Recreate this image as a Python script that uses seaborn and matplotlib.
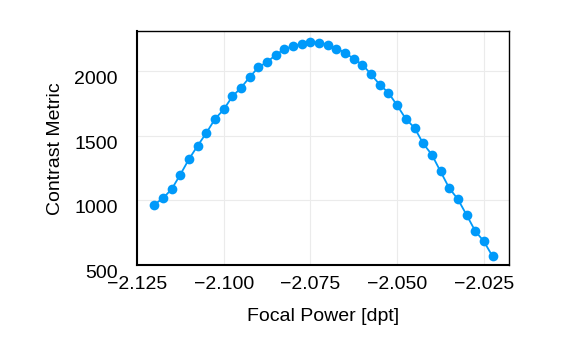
import numpy as np
import pandas as pd
import matplotlib
matplotlib.use("Agg")
import matplotlib.pyplot as plt
import matplotlib.transforms as mtransforms
from matplotlib.ticker import MultipleLocator
import seaborn as sns

# Focus sweep: focal power steps and measured contrast
focal_start = -2.1200
focal_step = 0.0025
contrast = [
    967, 1017, 1087, 1200, 1320, 1423, 1522, 1630, 1703, 1804,
    1871, 1954, 2029, 2070, 2124, 2171, 2192, 2210, 2223, 2220,
    2205, 2174, 2143, 2093, 2050, 1974, 1894, 1832, 1734, 1630,
    1561, 1440, 1353, 1224, 1095, 1009, 888, 763, 683, 567,
]
focal_power = [round(focal_start + i * focal_step, 4) for i in range(len(contrast))]

x_ticks = [-2.125, -2.100, -2.075, -2.050, -2.025]
y_ticks = [500, 1000, 1500, 2000]

df = pd.DataFrame({"Focal Power [dpt]": focal_power, "Contrast Metric": contrast})

sns.set_style("white")
plt.rcParams["font.family"] = ["Liberation Sans", "DejaVu Sans"]

fig = plt.figure(figsize=(5.88, 3.46), dpi=100)
ax = fig.add_axes([0.233, 0.234, 0.633, 0.675])

color = "#009AFA"
sns.lineplot(data=df, x="Focal Power [dpt]", y="Contrast Metric", ax=ax,
             color=color, linewidth=1.3, marker="o", markersize=7.0,
             markeredgewidth=0, markerfacecolor=color)

ax.set_xlim(-2.125, -2.0177)
ax.set_ylim(500, 2306)
ax.set_xticks(x_ticks)
ax.set_xticklabels([f"{v:.3f}".replace("-", "\u2212") for v in x_ticks])
ax.set_yticks(y_ticks)
ax.set_yticklabels([str(v) for v in y_ticks])
ax.xaxis.set_minor_locator(MultipleLocator(0.005))
ax.yaxis.set_minor_locator(MultipleLocator(100))

ax.grid(True, which="major", color="#ebebeb", linewidth=0.8)
ax.set_axisbelow(True)

ax.tick_params(axis="both", which="major", direction="in", length=4.5, width=1.1,
               labelsize=14, colors="black", top=False, right=False)
ax.tick_params(axis="both", which="minor", direction="in", length=2.6, width=0.9,
               top=False, right=False)
ax.tick_params(axis="y", which="major", pad=14)
ax.tick_params(axis="x", which="major", pad=8)

# y tick labels sit a little below their ticks
shift = mtransforms.ScaledTranslation(0, -6.5 / 100, fig.dpi_scale_trans)
for lbl in ax.get_yticklabels():
    lbl.set_transform(lbl.get_transform() + shift)

for side, lw in {"left": 1.5, "bottom": 1.5, "top": 1.0, "right": 1.0}.items():
    ax.spines[side].set_color("black")
    ax.spines[side].set_linewidth(lw)
    ax.spines[side].set_visible(True)

ax.set_xlabel("Focal Power [dpt]", fontsize=14, labelpad=11, color="black")
ax.set_ylabel("Contrast Metric", fontsize=14, labelpad=7, color="black")

fig.savefig("out.png", dpi=100)
